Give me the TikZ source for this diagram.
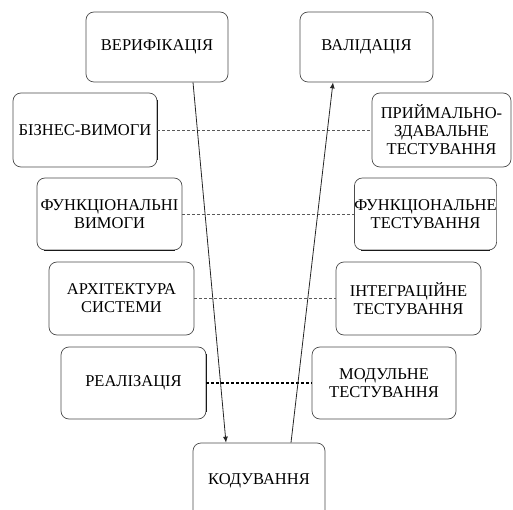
\documentclass[tikz,border=0pt]{standalone}
\usepackage{fontspec}
\setmainfont{Liberation Serif}
\usetikzlibrary{arrows.meta,calc}
\begin{document}
\begin{tikzpicture}[x=1pt,y=-1pt,
  stage/.style={draw=black!70, line width=0.7pt, rounded corners=8pt, fill=white,
    align=center, inner sep=0pt,
    font=\fontsize{16.5}{18}\selectfont},
  heavy/.style={draw=black!90, line width=1.3pt},
  link/.style={draw=black!65, line width=0.7pt, dash pattern=on 3pt off 2pt},
  flow/.style={draw=black!85, line width=0.8pt, -{Latex[length=6pt,width=5pt]}}]
\useasboundingbox (0,0) rectangle (513,510);
\begin{scope}
\clip (0,0) rectangle (513,510);
% top level
\node[stage, minimum width=142pt, minimum height=70pt] (ver) at (157,47) {ВЕРИФІКАЦІЯ};
\node[stage, minimum width=133pt, minimum height=70pt] (val) at (366.5,47) {ВАЛІДАЦІЯ};
% left branch
\node[stage, minimum width=144pt, minimum height=74pt] (biz) at (85,130) {БІЗНЕС-ВИМОГИ};
\node[stage, minimum width=145pt, minimum height=72pt] (fun) at (109.5,214) {ФУНКЦІОНАЛЬНІ\\ВИМОГИ};
\node[stage, minimum width=145pt, minimum height=73pt] (arch) at (121.5,298.5) {АРХІТЕКТУРА\\СИСТЕМИ};
\node[stage, minimum width=145pt, minimum height=72pt] (real) at (133.5,383) {РЕАЛІЗАЦІЯ};
% right branch
\node[stage, minimum width=139pt, minimum height=74pt] (acc) at (441.5,130) {ПРИЙМАЛЬНО-\\ЗДАВАЛЬНЕ\\ТЕСТУВАННЯ};
\node[stage, minimum width=141pt, minimum height=72pt] (ftest) at (425.5,214) {ФУНКЦІОНАЛЬНЕ\\ТЕСТУВАННЯ};
\node[stage, minimum width=145pt, minimum height=73pt] (itest) at (408.5,298.5) {ІНТЕГРАЦІЙНЕ\\ТЕСТУВАННЯ};
\node[stage, minimum width=144pt, minimum height=72pt] (mtest) at (384,383) {МОДУЛЬНЕ\\ТЕСТУВАННЯ};
% bottom
\node[stage, minimum width=132pt, minimum height=76pt] (kod) at (259,481) {КОДУВАННЯ};
\end{scope}
% darker edges on some boxes
\draw[heavy] ([yshift=-7pt]biz.north east) -- ([yshift=7pt]biz.south east);
\draw[heavy] ([xshift=7pt]fun.south west) -- ([xshift=-7pt]fun.south east);
\draw[heavy] ([xshift=7pt]ftest.south west) -- ([xshift=-7pt]ftest.south east);
\draw[heavy] ([yshift=-7pt]real.north east) -- ([yshift=7pt]real.south east);
% level links
\draw[link] (biz.east) -- (acc.west);
\draw[link] (fun.east) -- (ftest.west);
\draw[link] (arch.east) -- (itest.west);
\draw[link, draw=black, line width=1.3pt] (real.east) -- (mtest.west);
% main flow
\draw[flow] ([xshift=36pt]ver.south) -- ([xshift=-33pt]kod.north);
\draw[flow] ([xshift=32pt]kod.north) -- ([xshift=-33.5pt]val.south);
\end{tikzpicture}
\end{document}
